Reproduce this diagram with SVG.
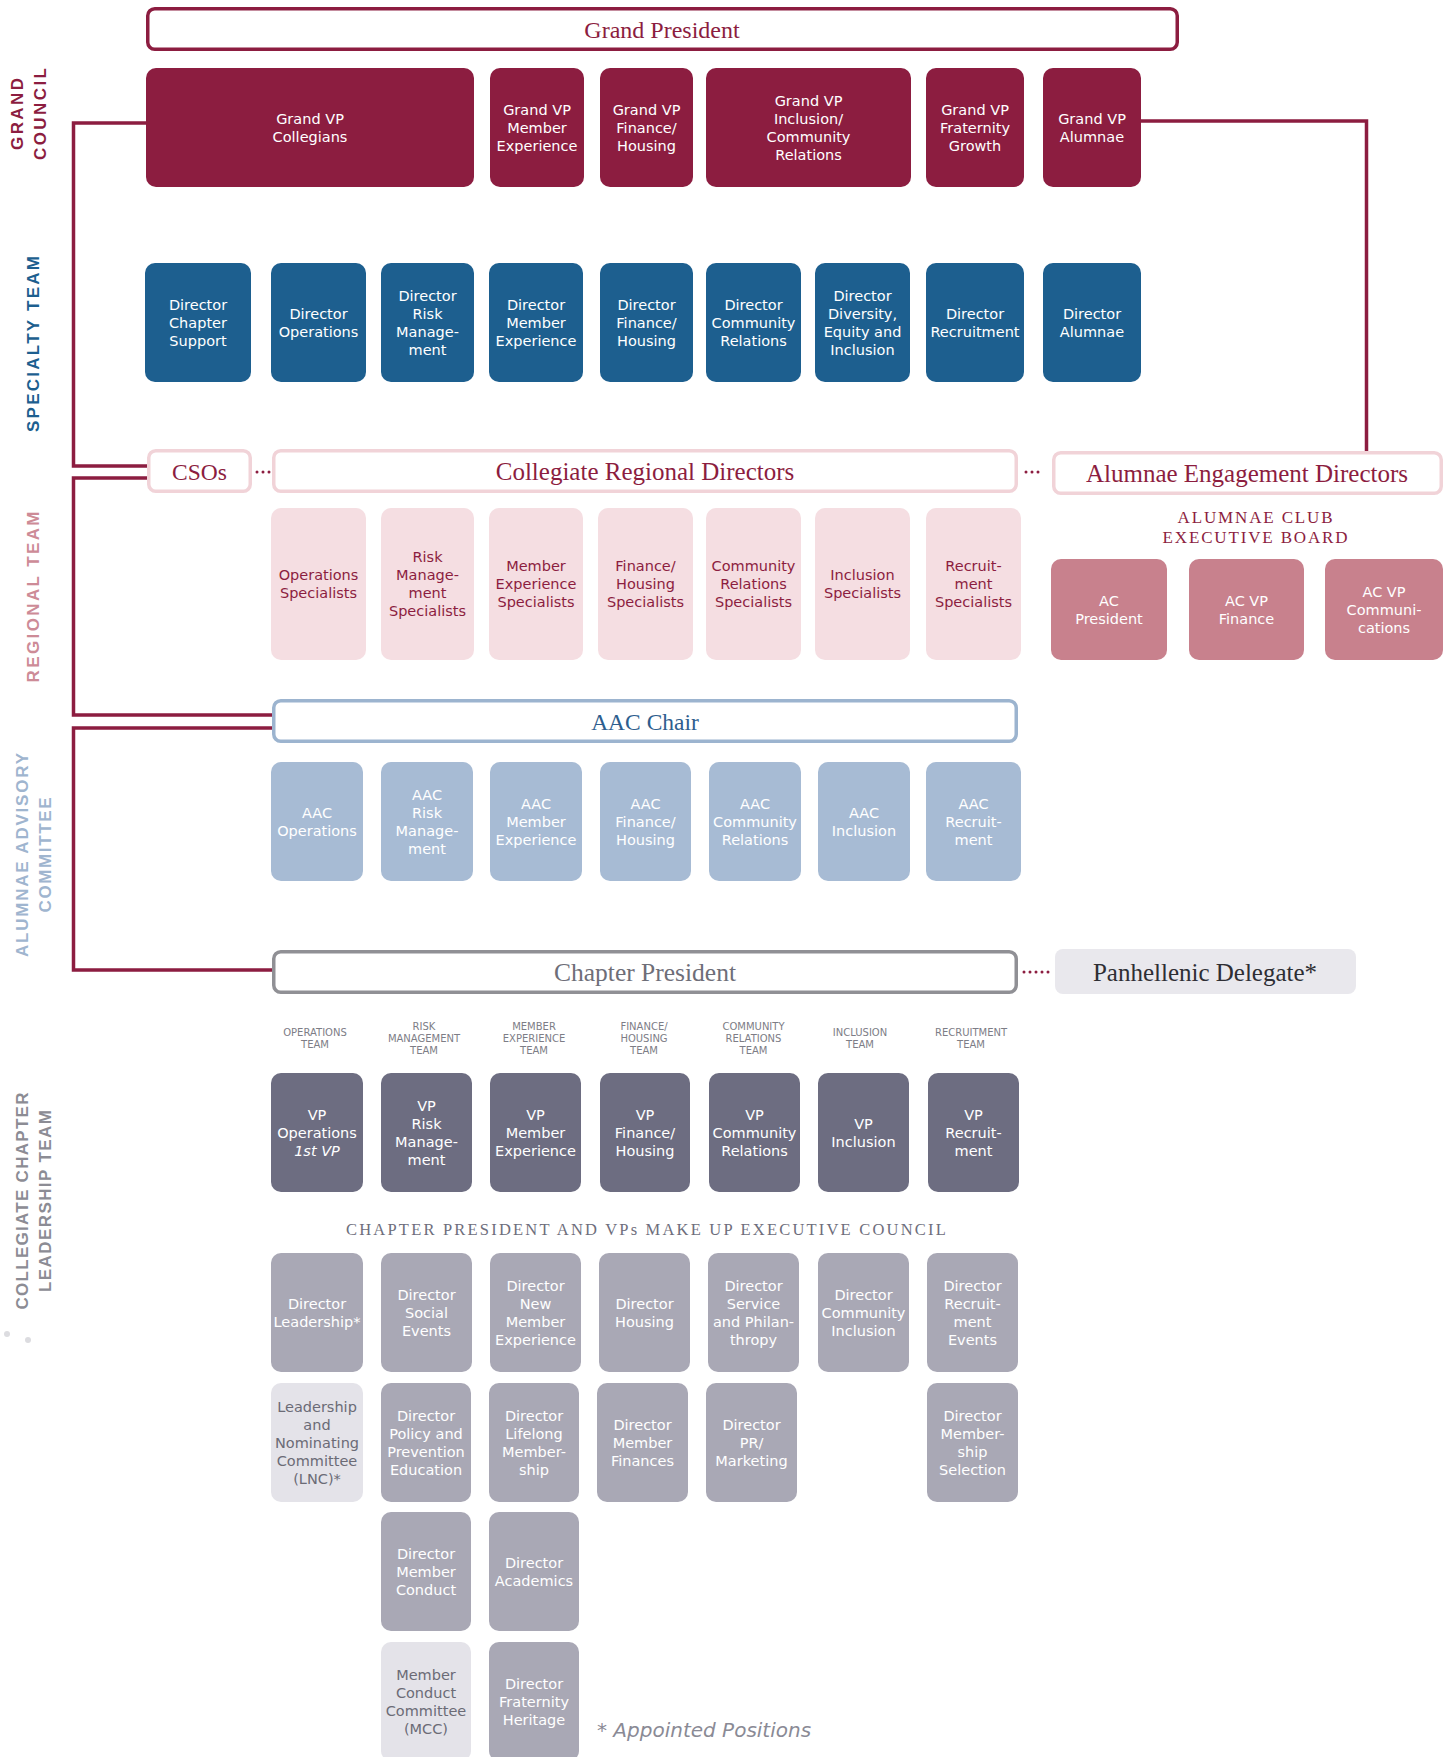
<svg xmlns="http://www.w3.org/2000/svg" width="1448" height="1757" viewBox="0 0 1448 1757">
<style>
.sans{font-family:"DejaVu Sans","Liberation Sans",sans-serif;font-size:14.5px;text-anchor:middle}
.serif{font-family:"Liberation Serif","DejaVu Serif",serif;text-anchor:middle}
.lbl{font-family:"Liberation Sans",Arial,sans-serif;font-weight:700;font-size:17px;text-anchor:middle}
.team{font-family:"DejaVu Sans","Liberation Sans",sans-serif;font-size:10px;fill:#7d7d86;text-anchor:middle}
.w{fill:#fff}
.mt{fill:#8c1d40}
.gt{fill:#6b6b76}
.gv{fill:#8c1d40}
.sp{fill:#1d5f8f}
.rs{fill:#f5dee2}
.ac{fill:#c8818d}
.aac{fill:#a7bbd4}
.vp{fill:#6d6d81}
.dr{fill:#a9a8b5}
.lt{fill:#e4e3e9}
.ol{fill:#fff;stroke-width:3.5}
.conn{fill:none;stroke:#8c1d40;stroke-width:3.5}
.dots{fill:none;stroke:#8c1d40;stroke-width:3;stroke-linecap:round;stroke-dasharray:0 6}
</style>

<g id="section-labels">
<text class="lbl mt" transform="translate(23,114) rotate(-90)" textLength="72" lengthAdjust="spacing">GRAND</text>
<text class="lbl mt" transform="translate(46,114) rotate(-90)" textLength="92" lengthAdjust="spacing">COUNCIL</text>
<text class="lbl" fill="#1d5f8f" transform="translate(39,344) rotate(-90)" textLength="176" lengthAdjust="spacing">SPECIALTY TEAM</text>
<text class="lbl" fill="#cd8b97" transform="translate(39,597) rotate(-90)" textLength="171" lengthAdjust="spacing">REGIONAL TEAM</text>
<text class="lbl" fill="#9fb5cf" transform="translate(28,855) rotate(-90)" textLength="204" lengthAdjust="spacing">ALUMNAE ADVISORY</text>
<text class="lbl" fill="#9fb5cf" transform="translate(51,855) rotate(-90)" textLength="115" lengthAdjust="spacing">COMMITTEE</text>
<text class="lbl" fill="#8c8c94" transform="translate(28,1201) rotate(-90)" textLength="217" lengthAdjust="spacing">COLLEGIATE CHAPTER</text>
<text class="lbl" fill="#8c8c94" transform="translate(51,1201) rotate(-90)" textLength="182" lengthAdjust="spacing">LEADERSHIP TEAM</text>
<circle cx="7" cy="1334" r="3" fill="#dcdce0"/>
<circle cx="28" cy="1340" r="3" fill="#dcdce0"/>
</g>

<g id="connectors">
<path class="conn" d="M147,123 H73.5 V466 H149"/>
<path class="conn" d="M149,478 H73.5 V715 H274"/>
<path class="conn" d="M274,728 H73.5 V970 H274"/>
<path class="conn" d="M1140,121 H1366.5 V452"/>
<path class="dots" d="M257,472 H270"/>
<path class="dots" d="M1026,472 H1039"/>
<path class="dots" d="M1024,972 H1050"/>
</g>

<g id="grand-president">
<rect class="ol" stroke="#8c1d40" x="147.75" y="8.75" width="1029.5" height="40.5" rx="7"/>
<text class="serif mt" x="662" y="38" font-size="24">Grand President</text>
</g>

<g id="gvp-collegians"><rect class="gv" x="146" y="68" width="328" height="119" rx="10"/><text class="sans w" x="310" y="123.8"><tspan x="310">Grand VP</tspan><tspan x="310" dy="18">Collegians</tspan></text></g>
<g id="gvp-member-experience"><rect class="gv" x="490" y="68" width="94" height="119" rx="10"/><text class="sans w" x="537" y="114.8"><tspan x="537">Grand VP</tspan><tspan x="537" dy="18">Member</tspan><tspan x="537" dy="18">Experience</tspan></text></g>
<g id="gvp-finance-housing"><rect class="gv" x="600" y="68" width="93" height="119" rx="10"/><text class="sans w" x="646.5" y="114.8"><tspan x="646.5">Grand VP</tspan><tspan x="646.5" dy="18">Finance/</tspan><tspan x="646.5" dy="18">Housing</tspan></text></g>
<g id="gvp-inclusion"><rect class="gv" x="706" y="68" width="205" height="119" rx="10"/><text class="sans w" x="808.5" y="105.8"><tspan x="808.5">Grand VP</tspan><tspan x="808.5" dy="18">Inclusion/</tspan><tspan x="808.5" dy="18">Community</tspan><tspan x="808.5" dy="18">Relations</tspan></text></g>
<g id="gvp-fraternity-growth"><rect class="gv" x="926" y="68" width="98" height="119" rx="10"/><text class="sans w" x="975" y="114.8"><tspan x="975">Grand VP</tspan><tspan x="975" dy="18">Fraternity</tspan><tspan x="975" dy="18">Growth</tspan></text></g>
<g id="gvp-alumnae"><rect class="gv" x="1043" y="68" width="98" height="119" rx="10"/><text class="sans w" x="1092" y="123.8"><tspan x="1092">Grand VP</tspan><tspan x="1092" dy="18">Alumnae</tspan></text></g>

<g id="dir-chapter-support"><rect class="sp" x="145" y="263" width="106" height="119" rx="10"/><text class="sans w" x="198" y="309.8"><tspan x="198">Director</tspan><tspan x="198" dy="18">Chapter</tspan><tspan x="198" dy="18">Support</tspan></text></g>
<g id="dir-operations"><rect class="sp" x="271" y="263" width="95" height="119" rx="10"/><text class="sans w" x="318.5" y="318.8"><tspan x="318.5">Director</tspan><tspan x="318.5" dy="18">Operations</tspan></text></g>
<g id="dir-risk"><rect class="sp" x="381" y="263" width="93" height="119" rx="10"/><text class="sans w" x="427.5" y="300.8"><tspan x="427.5">Director</tspan><tspan x="427.5" dy="18">Risk</tspan><tspan x="427.5" dy="18">Manage-</tspan><tspan x="427.5" dy="18">ment</tspan></text></g>
<g id="dir-member-experience"><rect class="sp" x="489" y="263" width="94" height="119" rx="10"/><text class="sans w" x="536" y="309.8"><tspan x="536">Director</tspan><tspan x="536" dy="18">Member</tspan><tspan x="536" dy="18">Experience</tspan></text></g>
<g id="dir-finance-housing"><rect class="sp" x="600" y="263" width="93" height="119" rx="10"/><text class="sans w" x="646.5" y="309.8"><tspan x="646.5">Director</tspan><tspan x="646.5" dy="18">Finance/</tspan><tspan x="646.5" dy="18">Housing</tspan></text></g>
<g id="dir-community-relations"><rect class="sp" x="706" y="263" width="95" height="119" rx="10"/><text class="sans w" x="753.5" y="309.8"><tspan x="753.5">Director</tspan><tspan x="753.5" dy="18">Community</tspan><tspan x="753.5" dy="18">Relations</tspan></text></g>
<g id="dir-dei"><rect class="sp" x="815" y="263" width="95" height="119" rx="10"/><text class="sans w" x="862.5" y="300.8"><tspan x="862.5">Director</tspan><tspan x="862.5" dy="18">Diversity,</tspan><tspan x="862.5" dy="18">Equity and</tspan><tspan x="862.5" dy="18">Inclusion</tspan></text></g>
<g id="dir-recruitment"><rect class="sp" x="926" y="263" width="98" height="119" rx="10"/><text class="sans w" x="975" y="318.8"><tspan x="975">Director</tspan><tspan x="975" dy="18">Recruitment</tspan></text></g>
<g id="dir-alumnae"><rect class="sp" x="1043" y="263" width="98" height="119" rx="10"/><text class="sans w" x="1092" y="318.8"><tspan x="1092">Director</tspan><tspan x="1092" dy="18">Alumnae</tspan></text></g>

<g id="csos"><rect class="ol" stroke="#f1d3d8" x="148.75" y="450.75" width="101.5" height="40.5" rx="7"/><text class="serif mt" x="199.5" y="480" font-size="23.5">CSOs</text></g>
<g id="collegiate-regional-directors"><rect class="ol" stroke="#f1d3d8" x="273.75" y="450.75" width="742.5" height="40.5" rx="7"/><text class="serif mt" x="645" y="480" font-size="25">Collegiate Regional Directors</text></g>
<g id="alumnae-engagement-directors"><rect class="ol" stroke="#f1d3d8" x="1053.75" y="452.75" width="387.5" height="40.5" rx="7"/><text class="serif mt" x="1247" y="482" font-size="25">Alumnae Engagement Directors</text></g>

<g id="spec-operations"><rect class="rs" x="271" y="508" width="95" height="152" rx="10"/><text class="sans mt" x="318.5" y="580.3"><tspan x="318.5">Operations</tspan><tspan x="318.5" dy="18">Specialists</tspan></text></g>
<g id="spec-risk"><rect class="rs" x="381" y="508" width="93" height="152" rx="10"/><text class="sans mt" x="427.5" y="562.3"><tspan x="427.5">Risk</tspan><tspan x="427.5" dy="18">Manage-</tspan><tspan x="427.5" dy="18">ment</tspan><tspan x="427.5" dy="18">Specialists</tspan></text></g>
<g id="spec-member-experience"><rect class="rs" x="489" y="508" width="94" height="152" rx="10"/><text class="sans mt" x="536" y="571.3"><tspan x="536">Member</tspan><tspan x="536" dy="18">Experience</tspan><tspan x="536" dy="18">Specialists</tspan></text></g>
<g id="spec-finance-housing"><rect class="rs" x="598" y="508" width="95" height="152" rx="10"/><text class="sans mt" x="645.5" y="571.3"><tspan x="645.5">Finance/</tspan><tspan x="645.5" dy="18">Housing</tspan><tspan x="645.5" dy="18">Specialists</tspan></text></g>
<g id="spec-community-relations"><rect class="rs" x="706" y="508" width="95" height="152" rx="10"/><text class="sans mt" x="753.5" y="571.3"><tspan x="753.5">Community</tspan><tspan x="753.5" dy="18">Relations</tspan><tspan x="753.5" dy="18">Specialists</tspan></text></g>
<g id="spec-inclusion"><rect class="rs" x="815" y="508" width="95" height="152" rx="10"/><text class="sans mt" x="862.5" y="580.3"><tspan x="862.5">Inclusion</tspan><tspan x="862.5" dy="18">Specialists</tspan></text></g>
<g id="spec-recruitment"><rect class="rs" x="926" y="508" width="95" height="152" rx="10"/><text class="sans mt" x="973.5" y="571.3"><tspan x="973.5">Recruit-</tspan><tspan x="973.5" dy="18">ment</tspan><tspan x="973.5" dy="18">Specialists</tspan></text></g>

<g id="alumnae-club-label"><text class="serif mt" x="1256" y="523" font-size="17" letter-spacing="1.85"><tspan x="1256">ALUMNAE CLUB</tspan><tspan x="1256" dy="19.5">EXECUTIVE BOARD</tspan></text></g>
<g id="ac-president"><rect class="ac" x="1051" y="559" width="116" height="101" rx="10"/><text class="sans w" x="1109" y="605.8"><tspan x="1109">AC</tspan><tspan x="1109" dy="18">President</tspan></text></g>
<g id="ac-vp-finance"><rect class="ac" x="1189" y="559" width="115" height="101" rx="10"/><text class="sans w" x="1246.5" y="605.8"><tspan x="1246.5">AC VP</tspan><tspan x="1246.5" dy="18">Finance</tspan></text></g>
<g id="ac-vp-communications"><rect class="ac" x="1325" y="559" width="118" height="101" rx="10"/><text class="sans w" x="1384" y="596.8"><tspan x="1384">AC VP</tspan><tspan x="1384" dy="18">Communi-</tspan><tspan x="1384" dy="18">cations</tspan></text></g>

<g id="aac-chair"><rect class="ol" stroke="#9cb4cf" x="273.75" y="700.75" width="742.5" height="40.5" rx="7"/><text class="serif" fill="#2e5e8e" x="645" y="730" font-size="23.5">AAC Chair</text></g>
<g id="aac-operations"><rect class="aac" x="271" y="762" width="92" height="119" rx="10"/><text class="sans w" x="317" y="817.8"><tspan x="317">AAC</tspan><tspan x="317" dy="18">Operations</tspan></text></g>
<g id="aac-risk"><rect class="aac" x="381" y="762" width="92" height="119" rx="10"/><text class="sans w" x="427" y="799.8"><tspan x="427">AAC</tspan><tspan x="427" dy="18">Risk</tspan><tspan x="427" dy="18">Manage-</tspan><tspan x="427" dy="18">ment</tspan></text></g>
<g id="aac-member-experience"><rect class="aac" x="490" y="762" width="92" height="119" rx="10"/><text class="sans w" x="536" y="808.8"><tspan x="536">AAC</tspan><tspan x="536" dy="18">Member</tspan><tspan x="536" dy="18">Experience</tspan></text></g>
<g id="aac-finance-housing"><rect class="aac" x="600" y="762" width="91" height="119" rx="10"/><text class="sans w" x="645.5" y="808.8"><tspan x="645.5">AAC</tspan><tspan x="645.5" dy="18">Finance/</tspan><tspan x="645.5" dy="18">Housing</tspan></text></g>
<g id="aac-community-relations"><rect class="aac" x="709" y="762" width="92" height="119" rx="10"/><text class="sans w" x="755" y="808.8"><tspan x="755">AAC</tspan><tspan x="755" dy="18">Community</tspan><tspan x="755" dy="18">Relations</tspan></text></g>
<g id="aac-inclusion"><rect class="aac" x="818" y="762" width="92" height="119" rx="10"/><text class="sans w" x="864" y="817.8"><tspan x="864">AAC</tspan><tspan x="864" dy="18">Inclusion</tspan></text></g>
<g id="aac-recruitment"><rect class="aac" x="926" y="762" width="95" height="119" rx="10"/><text class="sans w" x="973.5" y="808.8"><tspan x="973.5">AAC</tspan><tspan x="973.5" dy="18">Recruit-</tspan><tspan x="973.5" dy="18">ment</tspan></text></g>

<g id="chapter-president"><rect class="ol" stroke="#909095" x="273.75" y="951.75" width="742.5" height="40.5" rx="7"/><text class="serif" fill="#6e6e78" x="645" y="981" font-size="25.5">Chapter President</text></g>
<g id="panhellenic-delegate"><rect fill="#e9e8ed" x="1055" y="949" width="301" height="45" rx="8"/><text class="serif" fill="#2e2e34" x="1205" y="981" font-size="25">Panhellenic Delegate*</text></g>

<g id="team-labels">
<text class="team" x="315" y="1036"><tspan x="315">OPERATIONS</tspan><tspan x="315" dy="12.3">TEAM</tspan></text>
<text class="team" x="424" y="1029.5"><tspan x="424">RISK</tspan><tspan x="424" dy="12.4">MANAGEMENT</tspan><tspan x="424" dy="12.4">TEAM</tspan></text>
<text class="team" x="534" y="1029.5"><tspan x="534">MEMBER</tspan><tspan x="534" dy="12.4">EXPERIENCE</tspan><tspan x="534" dy="12.4">TEAM</tspan></text>
<text class="team" x="644" y="1029.5"><tspan x="644">FINANCE/</tspan><tspan x="644" dy="12.4">HOUSING</tspan><tspan x="644" dy="12.4">TEAM</tspan></text>
<text class="team" x="753.5" y="1029.5"><tspan x="753.5">COMMUNITY</tspan><tspan x="753.5" dy="12.4">RELATIONS</tspan><tspan x="753.5" dy="12.4">TEAM</tspan></text>
<text class="team" x="860" y="1036"><tspan x="860">INCLUSION</tspan><tspan x="860" dy="12.3">TEAM</tspan></text>
<text class="team" x="971" y="1036"><tspan x="971">RECRUITMENT</tspan><tspan x="971" dy="12.3">TEAM</tspan></text>
</g>

<g id="vp-operations"><rect class="vp" x="271" y="1073" width="92" height="119" rx="10"/><text class="sans w" x="317" y="1119.8"><tspan x="317">VP</tspan><tspan x="317" dy="18">Operations</tspan><tspan x="317" dy="18" font-style="italic">1st VP</tspan></text></g>
<g id="vp-risk"><rect class="vp" x="381" y="1073" width="91" height="119" rx="10"/><text class="sans w" x="426.5" y="1110.8"><tspan x="426.5">VP</tspan><tspan x="426.5" dy="18">Risk</tspan><tspan x="426.5" dy="18">Manage-</tspan><tspan x="426.5" dy="18">ment</tspan></text></g>
<g id="vp-member-experience"><rect class="vp" x="490" y="1073" width="91" height="119" rx="10"/><text class="sans w" x="535.5" y="1119.8"><tspan x="535.5">VP</tspan><tspan x="535.5" dy="18">Member</tspan><tspan x="535.5" dy="18">Experience</tspan></text></g>
<g id="vp-finance-housing"><rect class="vp" x="600" y="1073" width="90" height="119" rx="10"/><text class="sans w" x="645" y="1119.8"><tspan x="645">VP</tspan><tspan x="645" dy="18">Finance/</tspan><tspan x="645" dy="18">Housing</tspan></text></g>
<g id="vp-community-relations"><rect class="vp" x="709" y="1073" width="91" height="119" rx="10"/><text class="sans w" x="754.5" y="1119.8"><tspan x="754.5">VP</tspan><tspan x="754.5" dy="18">Community</tspan><tspan x="754.5" dy="18">Relations</tspan></text></g>
<g id="vp-inclusion"><rect class="vp" x="818" y="1073" width="91" height="119" rx="10"/><text class="sans w" x="863.5" y="1128.8"><tspan x="863.5">VP</tspan><tspan x="863.5" dy="18">Inclusion</tspan></text></g>
<g id="vp-recruitment"><rect class="vp" x="928" y="1073" width="91" height="119" rx="10"/><text class="sans w" x="973.5" y="1119.8"><tspan x="973.5">VP</tspan><tspan x="973.5" dy="18">Recruit-</tspan><tspan x="973.5" dy="18">ment</tspan></text></g>

<g id="exec-council-label"><text class="serif" fill="#6e6e7c" x="647" y="1235" font-size="16.5" letter-spacing="2.2">CHAPTER PRESIDENT AND VPs MAKE UP EXECUTIVE COUNCIL</text></g>

<g id="d-leadership"><rect class="dr" x="271" y="1253" width="92" height="119" rx="10"/><text class="sans w" x="317" y="1308.8"><tspan x="317">Director</tspan><tspan x="317" dy="18">Leadership*</tspan></text></g>
<g id="d-social-events"><rect class="dr" x="381" y="1253" width="91" height="119" rx="10"/><text class="sans w" x="426.5" y="1299.8"><tspan x="426.5">Director</tspan><tspan x="426.5" dy="18">Social</tspan><tspan x="426.5" dy="18">Events</tspan></text></g>
<g id="d-new-member"><rect class="dr" x="490" y="1253" width="91" height="119" rx="10"/><text class="sans w" x="535.5" y="1290.8"><tspan x="535.5">Director</tspan><tspan x="535.5" dy="18">New</tspan><tspan x="535.5" dy="18">Member</tspan><tspan x="535.5" dy="18">Experience</tspan></text></g>
<g id="d-housing"><rect class="dr" x="599" y="1253" width="91" height="119" rx="10"/><text class="sans w" x="644.5" y="1308.8"><tspan x="644.5">Director</tspan><tspan x="644.5" dy="18">Housing</tspan></text></g>
<g id="d-service"><rect class="dr" x="708" y="1253" width="91" height="119" rx="10"/><text class="sans w" x="753.5" y="1290.8"><tspan x="753.5">Director</tspan><tspan x="753.5" dy="18">Service</tspan><tspan x="753.5" dy="18">and Philan-</tspan><tspan x="753.5" dy="18">thropy</tspan></text></g>
<g id="d-community-inclusion"><rect class="dr" x="818" y="1253" width="91" height="119" rx="10"/><text class="sans w" x="863.5" y="1299.8"><tspan x="863.5">Director</tspan><tspan x="863.5" dy="18">Community</tspan><tspan x="863.5" dy="18">Inclusion</tspan></text></g>
<g id="d-recruitment-events"><rect class="dr" x="927" y="1253" width="91" height="119" rx="10"/><text class="sans w" x="972.5" y="1290.8"><tspan x="972.5">Director</tspan><tspan x="972.5" dy="18">Recruit-</tspan><tspan x="972.5" dy="18">ment</tspan><tspan x="972.5" dy="18">Events</tspan></text></g>

<g id="lnc"><rect class="lt" x="271" y="1383" width="92" height="119" rx="10"/><text class="sans gt" x="317" y="1411.8"><tspan x="317">Leadership</tspan><tspan x="317" dy="18">and</tspan><tspan x="317" dy="18">Nominating</tspan><tspan x="317" dy="18">Committee</tspan><tspan x="317" dy="18">(LNC)*</tspan></text></g>
<g id="d-policy"><rect class="dr" x="381" y="1383" width="90" height="119" rx="10"/><text class="sans w" x="426" y="1420.8"><tspan x="426">Director</tspan><tspan x="426" dy="18">Policy and</tspan><tspan x="426" dy="18">Prevention</tspan><tspan x="426" dy="18">Education</tspan></text></g>
<g id="d-lifelong"><rect class="dr" x="489" y="1383" width="90" height="119" rx="10"/><text class="sans w" x="534" y="1420.8"><tspan x="534">Director</tspan><tspan x="534" dy="18">Lifelong</tspan><tspan x="534" dy="18">Member-</tspan><tspan x="534" dy="18">ship</tspan></text></g>
<g id="d-member-finances"><rect class="dr" x="597" y="1383" width="91" height="119" rx="10"/><text class="sans w" x="642.5" y="1429.8"><tspan x="642.5">Director</tspan><tspan x="642.5" dy="18">Member</tspan><tspan x="642.5" dy="18">Finances</tspan></text></g>
<g id="d-pr-marketing"><rect class="dr" x="706" y="1383" width="91" height="119" rx="10"/><text class="sans w" x="751.5" y="1429.8"><tspan x="751.5">Director</tspan><tspan x="751.5" dy="18">PR/</tspan><tspan x="751.5" dy="18">Marketing</tspan></text></g>
<g id="d-membership-selection"><rect class="dr" x="927" y="1383" width="91" height="119" rx="10"/><text class="sans w" x="972.5" y="1420.8"><tspan x="972.5">Director</tspan><tspan x="972.5" dy="18">Member-</tspan><tspan x="972.5" dy="18">ship</tspan><tspan x="972.5" dy="18">Selection</tspan></text></g>

<g id="d-member-conduct"><rect class="dr" x="381" y="1512" width="90" height="119" rx="10"/><text class="sans w" x="426" y="1558.8"><tspan x="426">Director</tspan><tspan x="426" dy="18">Member</tspan><tspan x="426" dy="18">Conduct</tspan></text></g>
<g id="d-academics"><rect class="dr" x="489" y="1512" width="90" height="119" rx="10"/><text class="sans w" x="534" y="1567.8"><tspan x="534">Director</tspan><tspan x="534" dy="18">Academics</tspan></text></g>

<g id="mcc"><rect class="lt" x="381" y="1642" width="90" height="119" rx="10"/><text class="sans gt" x="426" y="1679.8"><tspan x="426">Member</tspan><tspan x="426" dy="18">Conduct</tspan><tspan x="426" dy="18">Committee</tspan><tspan x="426" dy="18">(MCC)</tspan></text></g>
<g id="d-fraternity-heritage"><rect class="dr" x="489" y="1642" width="90" height="119" rx="10"/><text class="sans w" x="534" y="1688.8"><tspan x="534">Director</tspan><tspan x="534" dy="18">Fraternity</tspan><tspan x="534" dy="18">Heritage</tspan></text></g>

<g id="footnote"><text x="597" y="1737" font-family="DejaVu Sans, Liberation Sans, sans-serif" font-style="italic" font-size="20" fill="#8a8a95">* Appointed Positions</text></g>
</svg>
